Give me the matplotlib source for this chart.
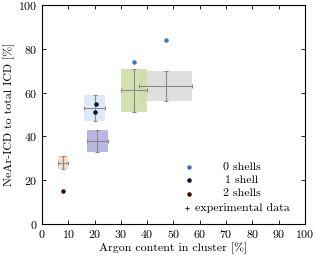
import numpy as np
import matplotlib
matplotlib.use('Agg')
import matplotlib.pyplot as plt
from matplotlib.patches import Rectangle

# ------------------
# simulated ratios, one list per shell count
shell_labels = ['0 shells', '1 shell', '2 shells']
shell_colors = ['#3f78b5', '#0e0e36', '#3c0b0e']
shell_x = [[35, 47], [20.5, 20], [8]]
shell_y = [[74, 84], [55, 51], [15]]

# experimental data: centre and half-widths
exp_x = [8, 20, 21, 47, 35]
exp_y = [28, 53, 38, 63, 61]
exp_xerr = [2, 4, 4, 10, 5]
exp_yerr = [3, 6, 5, 7, 10]
exp_colors = ['#f3d9c9', '#dbe8f8', '#b3aee0', '#dcdcdc', '#cfdea8']

x_ticks = np.arange(0, 101, 10)
y_ticks = np.arange(0, 101, 20)
# ------------------

plt.rcParams['font.family'] = ['cmr10', 'DejaVu Serif']
plt.rcParams['mathtext.fontset'] = 'cm'
plt.rcParams['axes.formatter.use_mathtext'] = True
plt.rcParams['font.size'] = 8.6

fig = plt.figure(figsize=(3.15, 2.56), dpi=100)
ax = fig.add_axes([0.1333, 0.125, 0.8349, 0.855])

for x, y, xe, ye, c in zip(exp_x, exp_y, exp_xerr, exp_yerr, exp_colors):
  ax.add_patch(Rectangle((x - xe, y - ye), 2 * xe, 2 * ye, facecolor=c,
                         edgecolor='none', alpha=0.9, zorder=1))
  ax.errorbar(x, y, xerr=xe, yerr=ye, fmt='none', ecolor='#8a8a8a',
              elinewidth=0.8, capsize=1.5, capthick=0.8, zorder=2)

for xs, ys, c in zip(shell_x, shell_y, shell_colors):
  ax.plot(xs, ys, '.', color=c, markersize=4.5, zorder=3)

# legend drawn by hand so the labels are centred like the original
leg_y = [0.260, 0.199, 0.139]
for ly, lab, c in zip(leg_y, shell_labels, shell_colors):
  ax.plot([0.559], [ly], '.', color=c, markersize=4.5, transform=ax.transAxes)
  ax.text(0.760, ly, lab, ha='center', va='center', transform=ax.transAxes)
ax.plot([0.552], [0.071], '+', color='black', markersize=3.5, mew=0.6,
        transform=ax.transAxes)
ax.text(0.762, 0.071, 'experimental data', ha='center', va='center',
        transform=ax.transAxes)

ax.set_xlim(0, 100)
ax.set_ylim(0, 100)
ax.set_xticks(x_ticks)
ax.set_yticks(y_ticks)
ax.tick_params(direction='in', top=True, right=True, length=3, width=0.6, pad=3)
for s in ax.spines.values():
  s.set_linewidth(0.8)

ax.set_xlabel('Argon content in cluster [%]', labelpad=2)
ax.set_ylabel('NeAr-ICD to total ICD [%]', labelpad=2.5)

fig.savefig('out.png', dpi=100)
